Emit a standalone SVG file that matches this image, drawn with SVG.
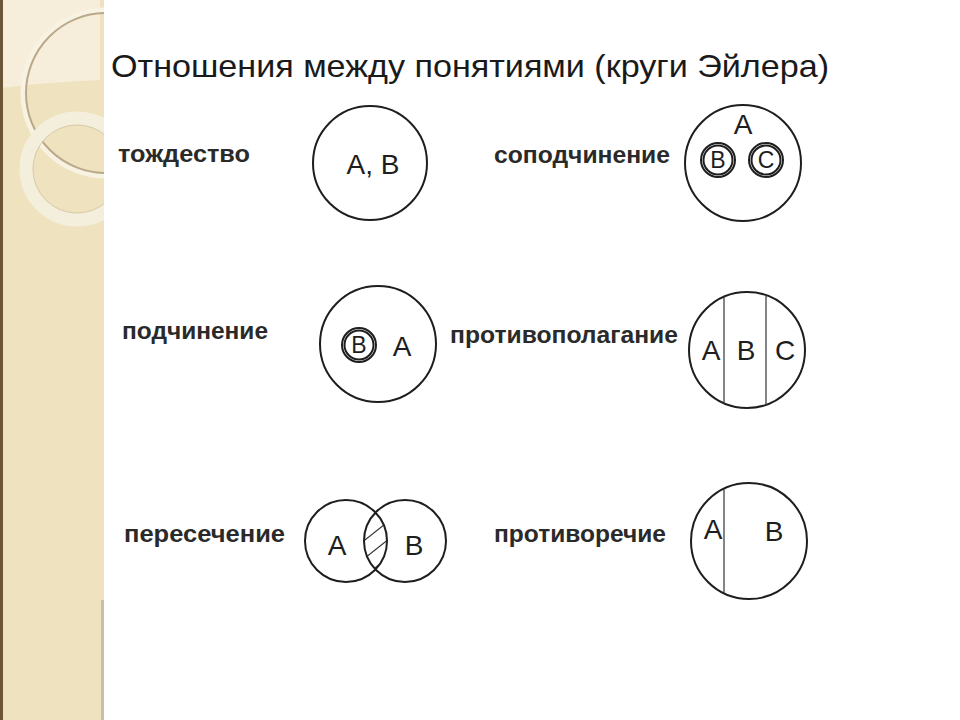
<svg xmlns="http://www.w3.org/2000/svg" width="960" height="720" viewBox="0 0 960 720">
<defs>
<style>
.c{fill:none;stroke:#1e1e1e;stroke-width:2}
.thin{fill:none;stroke:#333;stroke-width:1.2}
.lab{font-family:"Liberation Sans",Arial,sans-serif;font-weight:bold;font-size:24px;fill:#2a2a2a}
.let{font-family:"Liberation Sans",Arial,sans-serif;font-size:28px;fill:#1e1e1e;text-anchor:middle}
.sm{font-size:23px}
.ttl{font-family:"Liberation Sans",Arial,sans-serif;font-size:32px;fill:#1a1a1a}
</style>
<clipPath id="strip"><rect x="0" y="0" width="104" height="720"/></clipPath>
<clipPath id="cl"><circle cx="346" cy="541" r="41"/></clipPath>
<clipPath id="cr"><circle cx="405" cy="541" r="41"/></clipPath>
</defs>
<rect width="960" height="720" fill="#ffffff"/>
<g id="decor" clip-path="url(#strip)">
<rect x="0" y="0" width="104" height="720" fill="#efe3bf"/>
<path d="M0 0H100V80Q50 82 0 88Z" fill="#f6eedb"/>
<circle cx="106" cy="93" r="83" fill="none" stroke="#f8f2e2" stroke-width="5"/>
<circle cx="106" cy="93" r="80" fill="none" stroke="#b9a98a" stroke-width="2"/>
<circle cx="77" cy="169" r="51" fill="none" stroke="#f4eedd" stroke-width="13"/>
<circle cx="77" cy="169" r="44" fill="none" stroke="#d8cbab" stroke-width="1"/>
<rect x="0" y="0" width="3" height="720" fill="#6b5536"/>
<rect x="101" y="600" width="3" height="120" fill="#c9bfae"/>
</g>
<text class="ttl" x="111" y="77" textLength="718" lengthAdjust="spacingAndGlyphs">Отношения между понятиями (круги Эйлера)</text>
<g id="n-tozhdestvo">
<text class="lab" x="118" y="162" textLength="132" lengthAdjust="spacingAndGlyphs">тождество</text>
<circle class="c" cx="370" cy="163" r="57"/>
<text class="let" x="373" y="174" textLength="53" lengthAdjust="spacingAndGlyphs">A, B</text>
</g>
<g id="n-sopodchinenie">
<text class="lab" x="494" y="163" textLength="176" lengthAdjust="spacingAndGlyphs">соподчинение</text>
<circle class="c" cx="743" cy="163" r="58"/>
<text class="let" x="743" y="134">A</text>
<circle class="c" cx="718" cy="160" r="17" stroke-width="1.6"/>
<circle class="c" cx="718" cy="160" r="14.5" stroke-width="1.1"/>
<text class="let sm" x="718" y="168">B</text>
<circle class="c" cx="766" cy="160" r="17" stroke-width="1.6"/>
<circle class="c" cx="766" cy="160" r="14.5" stroke-width="1.1"/>
<text class="let sm" x="766" y="168">C</text>
</g>
<g id="n-podchinenie">
<text class="lab" x="122" y="339" textLength="146" lengthAdjust="spacingAndGlyphs">подчинение</text>
<circle class="c" cx="378" cy="344" r="58"/>
<circle class="c" cx="359" cy="345" r="17" stroke-width="1.6"/>
<circle class="c" cx="359" cy="345" r="14.5" stroke-width="1.1"/>
<text class="let sm" x="359" y="353">B</text>
<text class="let" x="402" y="356">A</text>
</g>
<g id="n-protivopolaganie">
<text class="lab" x="450" y="343" textLength="228" lengthAdjust="spacingAndGlyphs">противополагание</text>
<circle class="c" cx="747" cy="350" r="58"/>
<line class="thin" x1="724" y1="296" x2="724" y2="404"/>
<line class="thin" x1="766" y1="295" x2="766" y2="405"/>
<text class="let" x="711" y="360">A</text>
<text class="let" x="746" y="360">B</text>
<text class="let" x="785" y="360">C</text>
</g>
<g id="n-peresechenie">
<text class="lab" x="124" y="542" textLength="161" lengthAdjust="spacingAndGlyphs">пересечение</text>
<g clip-path="url(#cl)"><g clip-path="url(#cr)">
<line class="thin" x1="355" y1="530" x2="395" y2="498"/>
<line class="thin" x1="355" y1="548" x2="395" y2="516"/>
<line class="thin" x1="355" y1="566" x2="395" y2="534"/>
<line class="thin" x1="355" y1="584" x2="395" y2="552"/>
</g></g>
<circle class="c" cx="346" cy="541" r="41"/>
<circle class="c" cx="405" cy="541" r="41"/>
<text class="let" x="337" y="555">A</text>
<text class="let" x="414" y="555">B</text>
</g>
<g id="n-protivorechie">
<text class="lab" x="494" y="542" textLength="172" lengthAdjust="spacingAndGlyphs">противоречие</text>
<circle class="c" cx="749" cy="541" r="58"/>
<line class="thin" x1="724" y1="489" x2="724" y2="593"/>
<text class="let" x="713" y="539">A</text>
<text class="let" x="774" y="541">B</text>
</g>
</svg>
